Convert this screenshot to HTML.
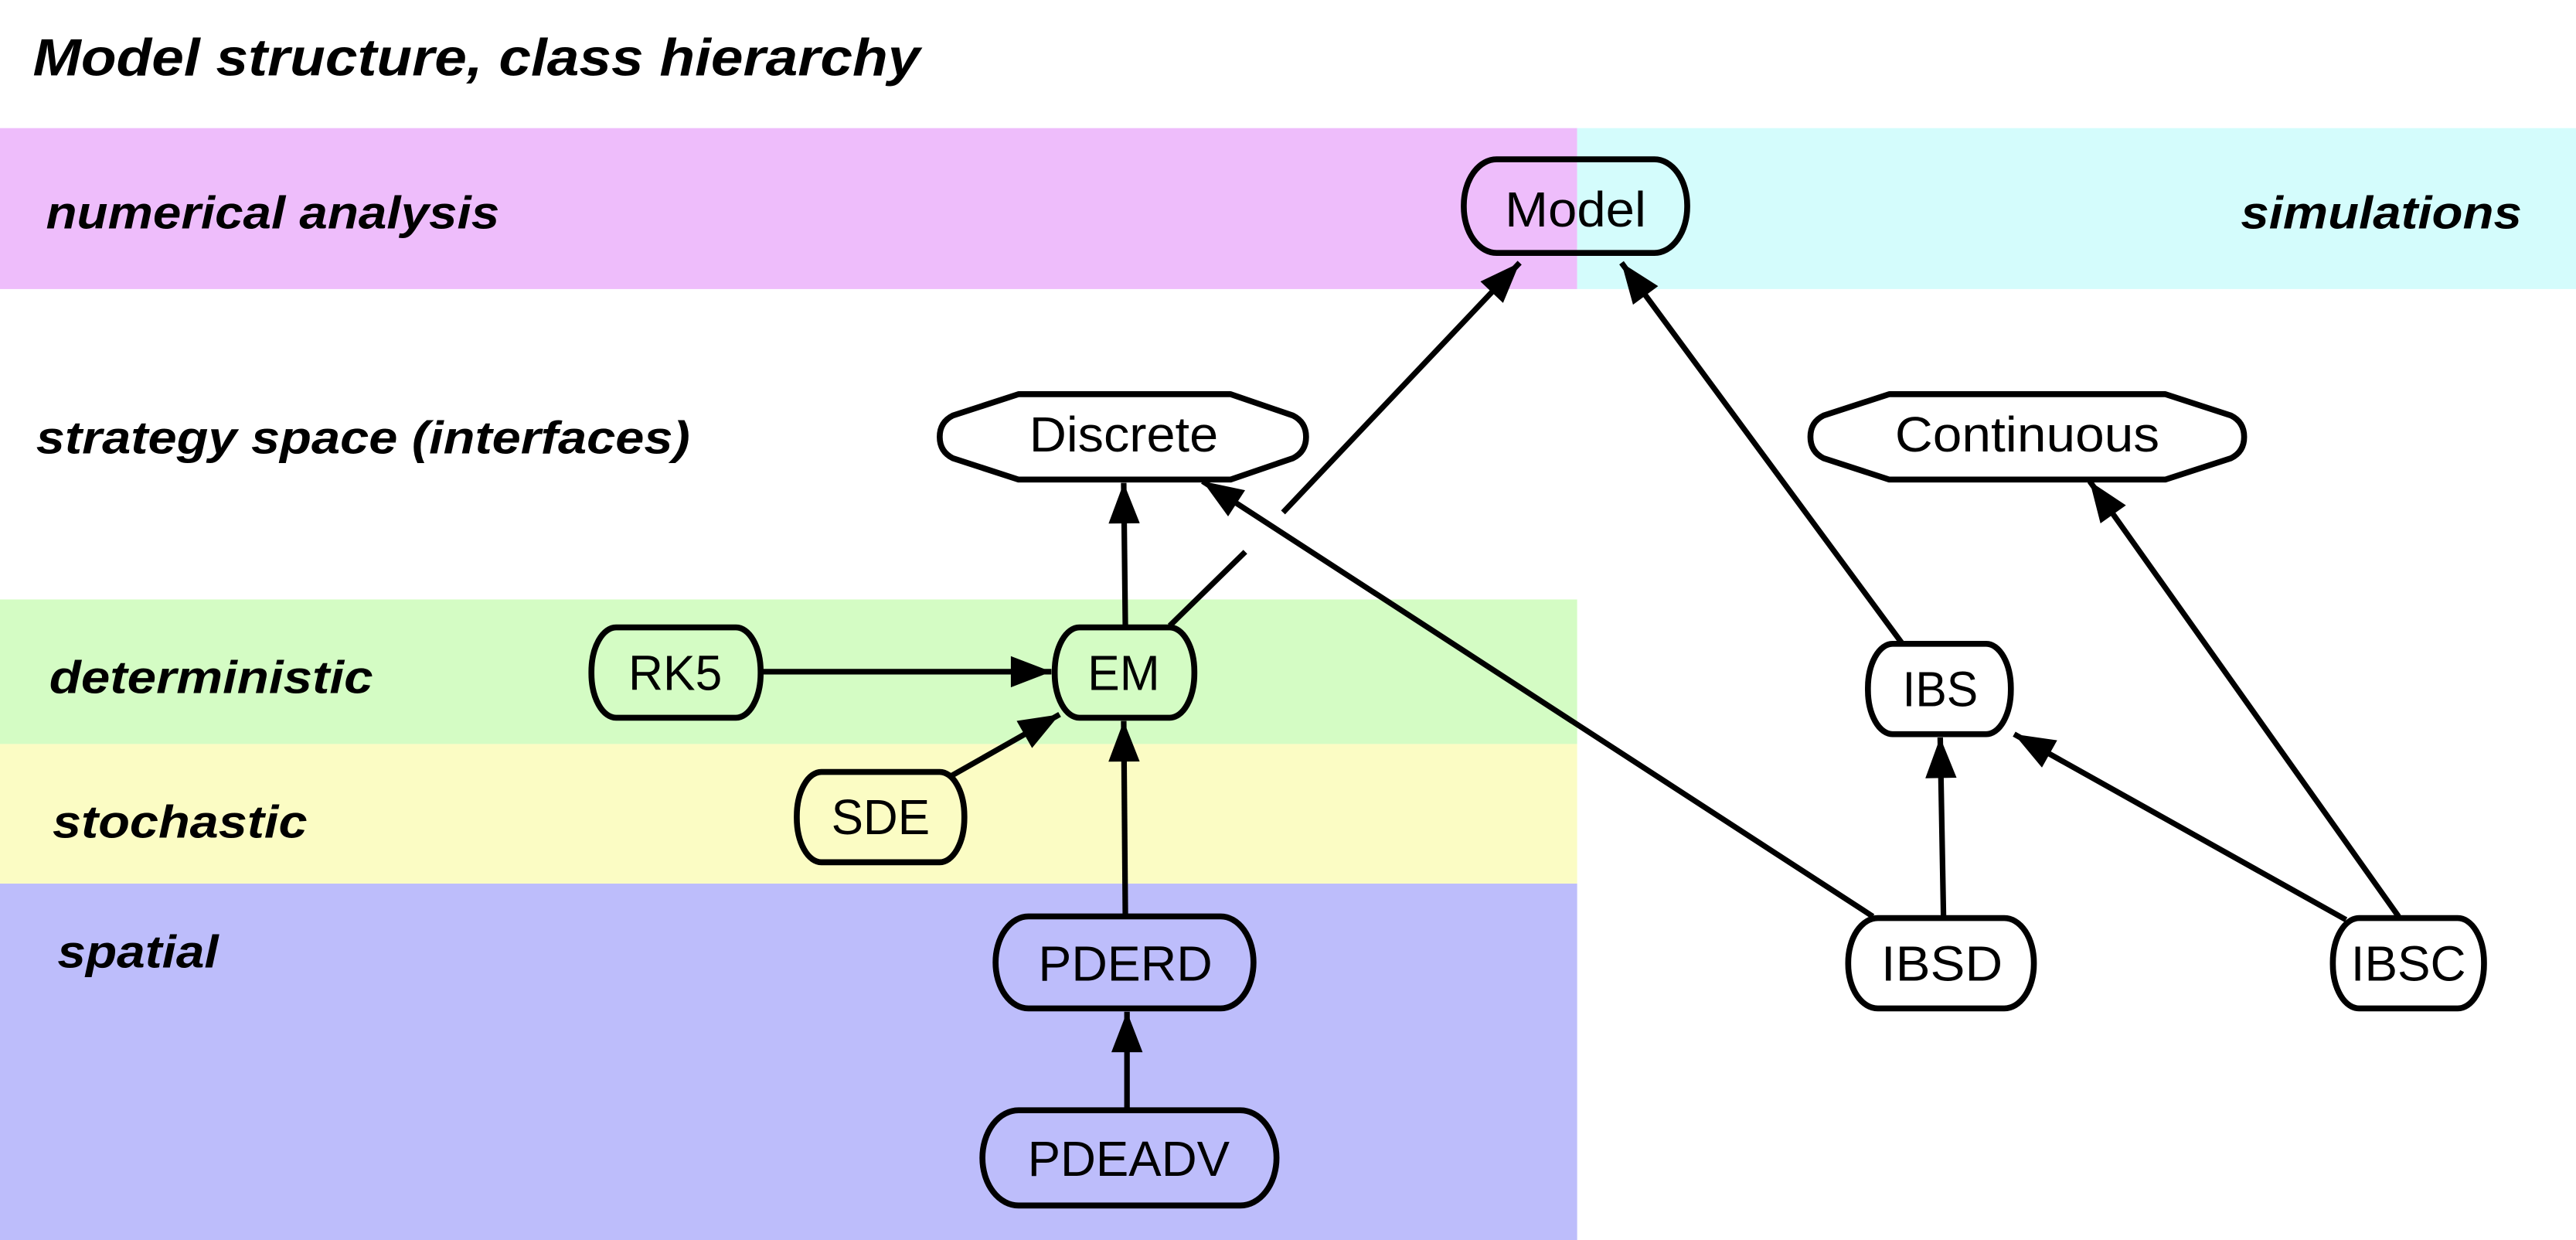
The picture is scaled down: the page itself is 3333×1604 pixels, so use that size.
<!DOCTYPE html>
<html><head><meta charset="utf-8"><style>
html,body{margin:0;padding:0;background:#fff;}
svg{display:block;}
text{font-family:"Liberation Sans",sans-serif;}
.h{font-weight:bold;font-style:italic;font-size:28px;}
.n{font-size:30px;text-anchor:middle;}
.s{stroke:#000;stroke-width:3.6;stroke-linejoin:round;}
.l{stroke:#000;stroke-width:3.4;fill:none;}
</style></head><body>
<svg width="3333" height="1604" viewBox="0 0 1568 755" preserveAspectRatio="none" xmlns="http://www.w3.org/2000/svg">
<defs>
<marker id="a" viewBox="0 0 26 20" refX="26" refY="10" markerWidth="26" markerHeight="19" markerUnits="userSpaceOnUse" orient="auto">
<path d="M0,0 L26,10 L0,20 Z" fill="#000"/></marker>
</defs>
<rect width="1568" height="755" fill="#fff"/>
<rect x="0" y="78" width="960" height="98" fill="#eebdfb"/>
<rect x="960" y="78" width="608" height="98" fill="#d4fcfc"/>
<rect x="0" y="365" width="960" height="88" fill="#d4fcc4"/>
<rect x="0" y="453" width="960" height="85" fill="#fbfcc4"/>
<rect x="0" y="538" width="960" height="217" fill="#bdbdfb"/>
<text x="20" y="46" class="h" style="font-size:32px" textLength="540" lengthAdjust="spacingAndGlyphs">Model structure, class hierarchy</text>
<text x="28" y="139" class="h" textLength="276" lengthAdjust="spacingAndGlyphs">numerical analysis</text>
<text x="1364" y="139" class="h" textLength="171" lengthAdjust="spacingAndGlyphs">simulations</text>
<text x="22" y="276" class="h" textLength="398" lengthAdjust="spacingAndGlyphs">strategy space (interfaces)</text>
<text x="30" y="422" class="h" textLength="197" lengthAdjust="spacingAndGlyphs">deterministic</text>
<text x="32" y="510" class="h" textLength="155" lengthAdjust="spacingAndGlyphs">stochastic</text>
<text x="35" y="589" class="h" textLength="98" lengthAdjust="spacingAndGlyphs">spatial</text>
<!-- edges -->
<line x1="685" y1="382" x2="684" y2="294" class="l" marker-end="url(#a)"/>
<line x1="712" y1="381" x2="758" y2="336" class="l"/>
<line x1="781" y1="312" x2="925" y2="160" class="l" marker-end="url(#a)"/>
<line x1="463" y1="409" x2="640" y2="409" class="l" marker-end="url(#a)"/>
<line x1="578" y1="473" x2="645" y2="435" class="l" marker-end="url(#a)"/>
<line x1="685" y1="558" x2="684" y2="439" class="l" marker-end="url(#a)"/>
<line x1="686" y1="675" x2="686" y2="616" class="l" marker-end="url(#a)"/>
<line x1="1158" y1="392" x2="987" y2="160" class="l" marker-end="url(#a)"/>
<line x1="1140" y1="558" x2="732" y2="293" class="l" marker-end="url(#a)"/>
<line x1="1183" y1="558" x2="1181" y2="449" class="l" marker-end="url(#a)"/>
<line x1="1428" y1="560" x2="1226" y2="447" class="l" marker-end="url(#a)"/>
<line x1="1460" y1="558" x2="1272" y2="293" class="l" marker-end="url(#a)"/>
<!-- nodes -->
<rect x="891" y="97" width="136" height="57" rx="20" ry="28" class="s" fill="none"/>
<text x="959" y="138" class="n" textLength="86" lengthAdjust="spacingAndGlyphs">Model</text>
<path d="M620,240 H749 L787,253 Q795,257 795,266 Q795,275 787,279 L749,292 H620 L580,279 Q572,275 572,266 Q572,257 580,253 Z" class="s" fill="#fff"/>
<text x="684" y="275" class="n" textLength="115" lengthAdjust="spacingAndGlyphs">Discrete</text>
<path d="M1150,240 H1318 L1358,253 Q1366,257 1366,266 Q1366,275 1358,279 L1318,292 H1150 L1110,279 Q1102,275 1102,266 Q1102,257 1110,253 Z" class="s" fill="#fff"/>
<text x="1234" y="275" class="n" textLength="161" lengthAdjust="spacingAndGlyphs">Continuous</text>
<rect x="360" y="382" width="103" height="55" rx="15" ry="27" class="s" fill="none"/>
<text x="411" y="420" class="n" textLength="57" lengthAdjust="spacingAndGlyphs">RK5</text>
<rect x="642" y="382" width="85" height="55" rx="15" ry="27" class="s" fill="none"/>
<text x="684" y="420" class="n" textLength="44" lengthAdjust="spacingAndGlyphs">EM</text>
<rect x="485" y="470" width="102" height="55" rx="15" ry="27" class="s" fill="none"/>
<text x="536" y="508" class="n" textLength="60" lengthAdjust="spacingAndGlyphs">SDE</text>
<rect x="606" y="558" width="157" height="56" rx="20" ry="28" class="s" fill="none"/>
<text x="685" y="597" class="n" textLength="106" lengthAdjust="spacingAndGlyphs">PDERD</text>
<rect x="598" y="676" width="179" height="58" rx="22" ry="29" class="s" fill="none"/>
<text x="687" y="716" class="n" textLength="123" lengthAdjust="spacingAndGlyphs">PDEADV</text>
<rect x="1137" y="392" width="87" height="55" rx="15" ry="27" class="s" fill="#fff"/>
<text x="1181" y="430" class="n" textLength="46" lengthAdjust="spacingAndGlyphs">IBS</text>
<rect x="1125" y="559" width="113" height="55" rx="18" ry="27" class="s" fill="#fff"/>
<text x="1182" y="597" class="n" textLength="74" lengthAdjust="spacingAndGlyphs">IBSD</text>
<rect x="1420" y="559" width="92" height="55" rx="16" ry="27" class="s" fill="#fff"/>
<text x="1466" y="597" class="n">IBSC</text>
</svg>
</body></html>
